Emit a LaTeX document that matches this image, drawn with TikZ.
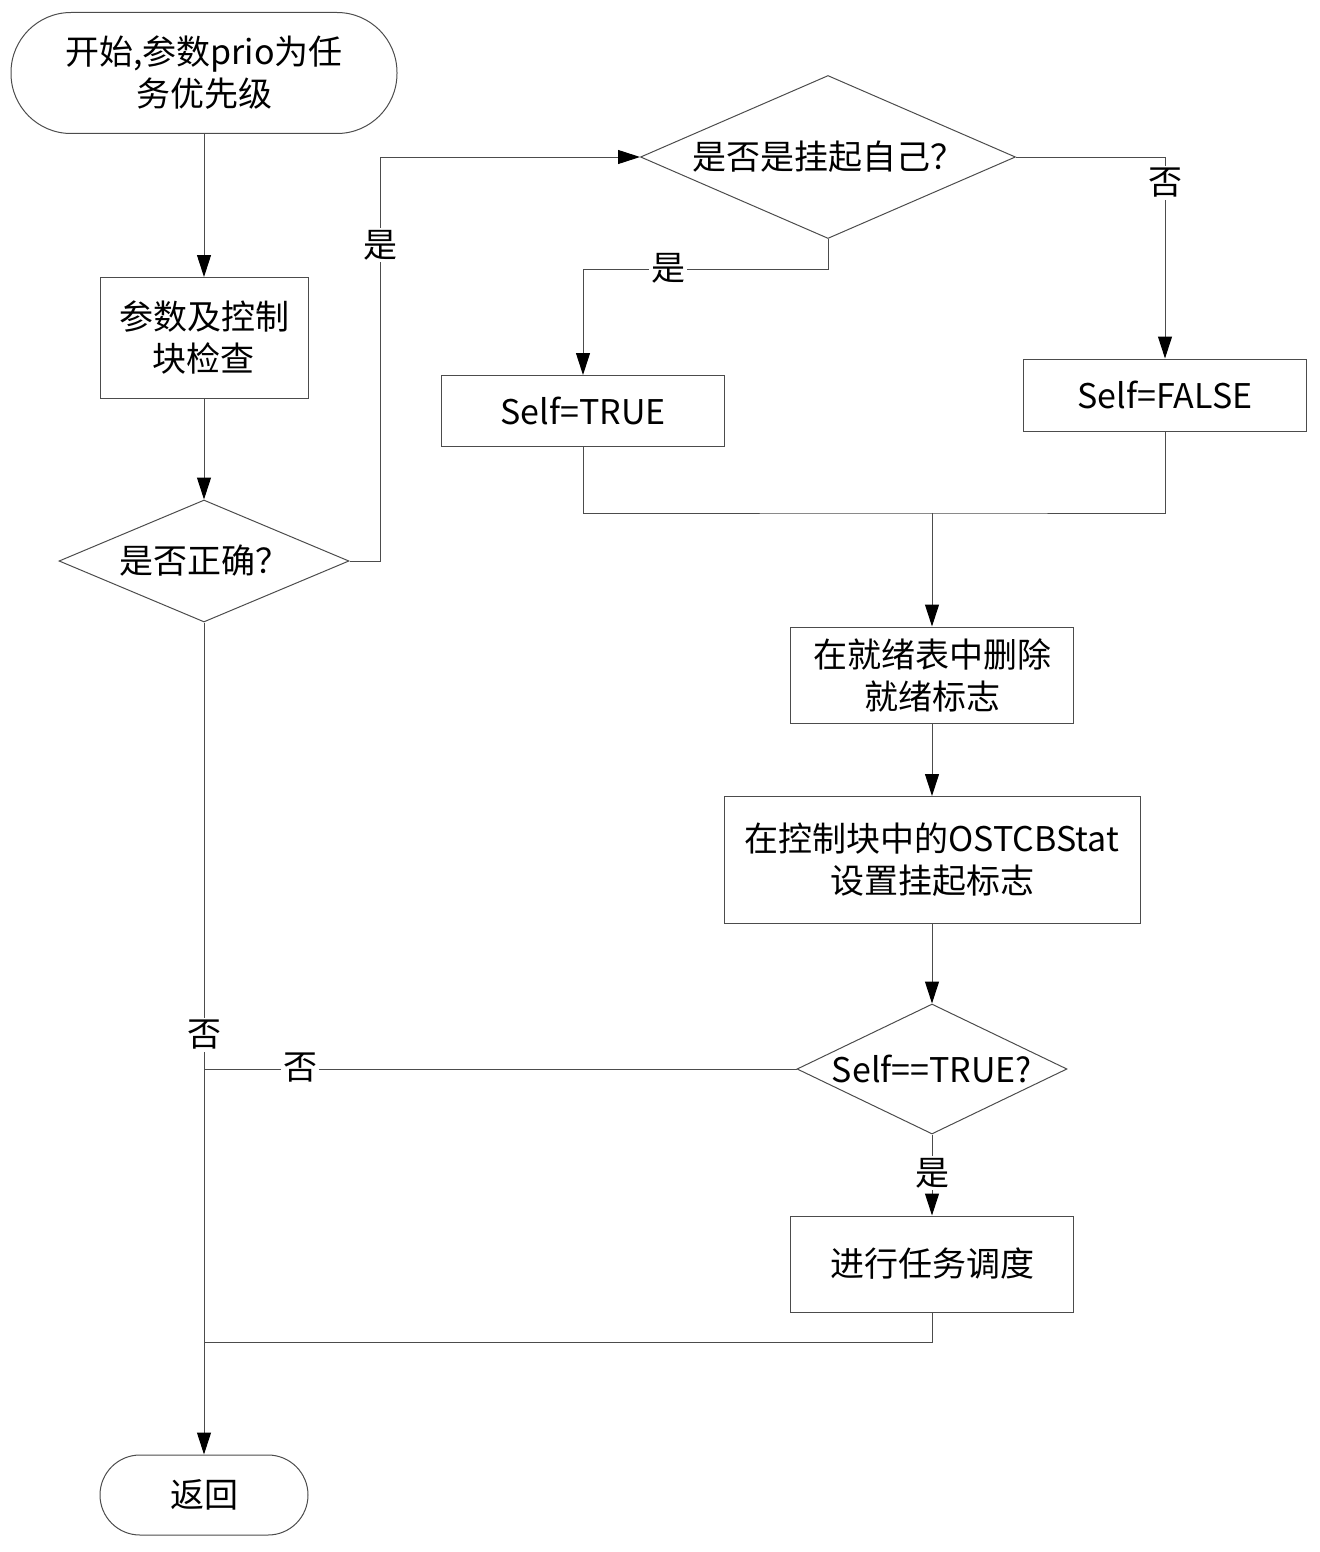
\documentclass[tikz,border=0pt]{standalone}
\usepackage{fontspec}
\setmainfont{Noto Sans CJK SC}
\usetikzlibrary{shapes.geometric,arrows.meta}

\tikzset{
  line/.style={draw=black!70, line width=0.5pt},
  arr/.style={line, -{Triangle[length=11pt,width=7pt,black]}},
  proc/.style={rectangle, line, align=center, inner sep=0pt, font=\fontsize{17}{21}\selectfont},
  term/.style={proc, rounded corners=#1},
  decide/.style={diamond, line, aspect=2.3, inner sep=0pt, font=\fontsize{17}{21}\selectfont},
  lbl/.style={fill=white, inner sep=1pt, font=\fontsize{17}{21}\selectfont}
}

\begin{document}
\begin{tikzpicture}[x=0.5pt, y=-0.5pt]
  \useasboundingbox (0,0) rectangle (1319,1552);

  \node[term=30pt, minimum width=193pt, minimum height=60.5pt] (start) at (204,73) {开始,参数prio为任\\务优先级};
  \node[proc, minimum width=104pt, minimum height=60.5pt] (check) at (204,338) {参数及控制\\块检查};
  \node[decide, minimum width=145pt, minimum height=61pt] (ok) at (204,561) {是否正确？};
  \node[decide, minimum width=187.5pt, minimum height=81.5pt] (isself) at (828,157) {是否是挂起自己？};
  \node[proc, minimum width=141.5pt, minimum height=35.5pt] (selft) at (583,411) {Self=TRUE};
  \node[proc, minimum width=141.5pt, minimum height=36pt] (selff) at (1165,395) {Self=FALSE};
  \node[proc, minimum width=141.5pt, minimum height=48pt] (rdy) at (932,675) {在就绪表中删除\\就绪标志};
  \node[proc, minimum width=208pt, minimum height=63.5pt] (stat) at (932,860) {在控制块中的OSTCBStat\\设置挂起标志};
  \node[decide, minimum width=135pt, minimum height=65pt] (istrue) at (932,1069) {Self==TRUE?};
  \node[proc, minimum width=141.5pt, minimum height=48pt] (sched) at (932,1264) {进行任务调度};
  \node[term=20pt, minimum width=104pt, minimum height=40pt] (stop) at (204,1495) {返回};

  \coordinate (up) at (380,157);
  \coordinate (merge) at (932,513);
  \coordinate (back) at (204,1342);

  % main path
  \draw[arr] (start) -- (check);
  \draw[arr] (check) -- (ok);
  \draw[arr] (ok.east) -| (up) -- (isself.west);
  \draw[arr] (isself.south) -- ++(0,30) -| (selft.north);
  \draw[arr] (isself.east) -| (selff.north);
  \draw[line] (selft.south) |- (merge) -| (selff.south);
  \draw[arr] (merge) -- (rdy);
  \draw[arr] (rdy) -- (stat);
  \draw[arr] (stat) -- (istrue);
  \draw[arr] (istrue) -- (sched);
  \draw[line] (istrue.west) -- (istrue.west -| ok.south);
  \draw[line] (sched.south) |- (back);
  \draw[arr] (ok.south) -- (stop);

  % labels
  \node[lbl] (y1) at (380,245) {是};
  \node[lbl] (y2) at (668,268) {是};
  \node[lbl] (n1) at (1165,183) {否};
  \node[lbl] (y3) at (932,1173) {是};
  \node[lbl] (n2) at (300,1068) {否};
  \node[lbl] (n3) at (204,1035) {否};
\end{tikzpicture}
\end{document}
